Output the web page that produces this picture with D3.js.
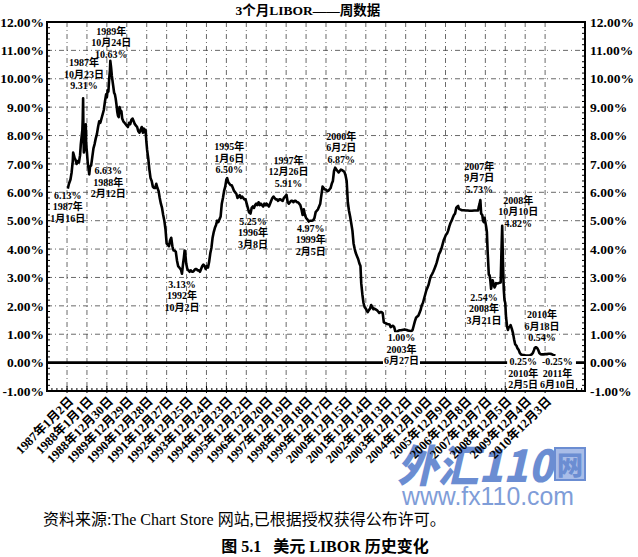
<!DOCTYPE html>
<html><head><meta charset="utf-8">
<script src="https://cdn.jsdelivr.net/npm/d3@7"></script>
<style>body{margin:0;background:#fff}svg{display:block}</style>
</head><body>
<svg id="c" width="638" height="557"></svg>
<script>
// ---------------- DATA ----------------
const dates = ["1987-01-16","1987-02-06","1987-03-06","1987-03-27","1987-04-17","1987-04-24","1987-05-08","1987-05-22","1987-06-05","1987-06-26","1987-07-17","1987-08-07","1987-08-28","1987-09-11","1987-09-25","1987-10-09","1987-10-16","1987-10-23","1987-10-30","1987-11-06","1987-11-20","1987-12-04","1987-12-11","1987-12-18","1988-01-01","1988-01-15","1988-01-29","1988-02-12","1988-02-26","1988-03-18","1988-04-08","1988-04-29","1988-05-20","1988-06-10","1988-07-01","1988-07-22","1988-08-12","1988-09-02","1988-09-23","1988-10-14","1988-11-04","1988-11-25","1988-12-16","1988-12-30","1989-01-13","1989-01-27","1989-02-10","1989-02-24","1989-03-03","1989-03-17","1989-03-31","1989-04-14","1989-04-28","1989-05-12","1989-05-26","1989-06-09","1989-06-23","1989-07-07","1989-07-21","1989-08-04","1989-08-18","1989-09-01","1989-09-22","1989-10-06","1989-10-27","1989-11-17","1989-12-08","1989-12-29","1990-01-19","1990-02-09","1990-03-02","1990-03-23","1990-04-13","1990-05-04","1990-05-25","1990-06-15","1990-07-06","1990-07-27","1990-08-17","1990-09-07","1990-09-28","1990-10-19","1990-11-02","1990-11-16","1990-11-30","1990-12-07","1990-12-21","1991-01-04","1991-01-25","1991-02-15","1991-03-08","1991-03-29","1991-04-19","1991-05-10","1991-05-31","1991-06-21","1991-07-12","1991-08-02","1991-08-23","1991-09-13","1991-10-04","1991-10-25","1991-11-15","1991-12-06","1991-12-27","1992-01-17","1992-02-07","1992-02-28","1992-03-20","1992-04-10","1992-05-01","1992-05-22","1992-06-12","1992-07-03","1992-07-24","1992-08-14","1992-09-04","1992-09-18","1992-10-02","1992-10-23","1992-11-06","1992-11-20","1992-12-04","1992-12-18","1993-01-08","1993-01-29","1993-02-19","1993-03-12","1993-04-02","1993-04-23","1993-05-14","1993-06-04","1993-06-25","1993-07-16","1993-08-06","1993-08-27","1993-09-17","1993-10-08","1993-10-29","1993-11-19","1993-12-10","1993-12-31","1994-01-21","1994-02-11","1994-03-04","1994-03-25","1994-04-15","1994-05-06","1994-05-27","1994-06-17","1994-07-08","1994-07-29","1994-08-19","1994-09-09","1994-09-30","1994-10-21","1994-11-11","1994-12-02","1994-12-23","1995-01-06","1995-01-27","1995-02-17","1995-03-10","1995-03-31","1995-04-21","1995-05-12","1995-06-02","1995-06-23","1995-07-14","1995-08-04","1995-08-25","1995-09-15","1995-10-06","1995-10-27","1995-11-17","1995-12-08","1995-12-29","1996-01-19","1996-02-09","1996-03-08","1996-03-29","1996-04-19","1996-05-10","1996-05-31","1996-06-21","1996-07-12","1996-08-02","1996-08-23","1996-09-13","1996-10-04","1996-10-25","1996-11-15","1996-12-06","1996-12-27","1997-01-17","1997-02-07","1997-02-28","1997-03-21","1997-04-11","1997-05-02","1997-05-23","1997-06-13","1997-07-04","1997-07-25","1997-08-15","1997-09-05","1997-09-26","1997-10-17","1997-11-07","1997-11-28","1997-12-26","1998-01-16","1998-02-06","1998-02-27","1998-03-20","1998-04-10","1998-05-01","1998-05-22","1998-06-12","1998-07-03","1998-07-24","1998-08-14","1998-09-04","1998-09-25","1998-10-16","1998-11-06","1998-11-27","1998-12-18","1999-01-08","1999-02-05","1999-02-26","1999-03-19","1999-04-09","1999-04-30","1999-05-21","1999-06-11","1999-07-02","1999-07-23","1999-08-13","1999-09-03","1999-09-24","1999-10-15","1999-11-05","1999-11-26","1999-12-17","2000-01-07","2000-01-28","2000-02-18","2000-03-10","2000-03-31","2000-04-21","2000-05-12","2000-06-02","2000-06-23","2000-07-14","2000-08-04","2000-08-25","2000-09-15","2000-10-06","2000-10-27","2000-11-17","2000-12-08","2000-12-29","2001-01-19","2001-02-09","2001-03-02","2001-03-23","2001-04-13","2001-05-04","2001-05-25","2001-06-15","2001-07-06","2001-07-27","2001-08-17","2001-09-07","2001-09-21","2001-10-12","2001-11-02","2001-11-23","2001-12-14","2001-12-28","2002-01-18","2002-02-08","2002-03-01","2002-03-22","2002-04-12","2002-05-03","2002-05-24","2002-06-14","2002-07-05","2002-07-26","2002-08-16","2002-09-06","2002-09-27","2002-10-18","2002-11-08","2002-11-29","2002-12-20","2003-01-10","2003-01-31","2003-02-21","2003-03-14","2003-04-04","2003-04-25","2003-05-16","2003-06-06","2003-06-27","2003-07-18","2003-08-08","2003-08-29","2003-09-19","2003-10-10","2003-10-31","2003-11-21","2003-12-12","2004-01-02","2004-01-23","2004-02-13","2004-03-05","2004-03-26","2004-04-16","2004-05-07","2004-05-28","2004-06-18","2004-07-09","2004-07-30","2004-08-20","2004-09-10","2004-10-01","2004-10-22","2004-11-12","2004-12-03","2004-12-24","2005-01-14","2005-02-04","2005-02-25","2005-03-18","2005-04-08","2005-04-29","2005-05-20","2005-06-10","2005-07-01","2005-07-22","2005-08-12","2005-09-02","2005-09-23","2005-10-14","2005-11-04","2005-11-25","2005-12-16","2006-01-06","2006-01-27","2006-02-17","2006-03-10","2006-03-31","2006-04-21","2006-05-12","2006-06-02","2006-06-23","2006-07-14","2006-07-28","2006-08-11","2006-09-01","2006-10-06","2006-11-10","2006-12-15","2007-01-19","2007-02-23","2007-04-06","2007-05-18","2007-06-29","2007-07-27","2007-08-10","2007-08-24","2007-09-07","2007-09-21","2007-10-12","2007-10-26","2007-11-09","2007-11-23","2007-12-07","2007-12-21","2008-01-04","2008-01-18","2008-01-25","2008-02-08","2008-02-22","2008-03-07","2008-03-21","2008-04-04","2008-04-18","2008-05-02","2008-05-23","2008-06-06","2008-06-20","2008-07-11","2008-08-01","2008-08-22","2008-09-12","2008-09-26","2008-10-10","2008-10-24","2008-11-07","2008-11-21","2008-12-05","2008-12-19","2009-01-09","2009-01-23","2009-02-06","2009-02-27","2009-03-13","2009-04-03","2009-04-24","2009-05-15","2009-06-05","2009-06-26","2009-07-17","2009-08-07","2009-08-28","2009-09-18","2009-10-09","2009-11-06","2009-12-04","2010-01-08","2010-02-05","2010-03-05","2010-04-02","2010-04-23","2010-05-14","2010-05-28","2010-06-18","2010-07-09","2010-07-30","2010-08-20","2010-09-10","2010-10-08","2010-11-05","2010-12-03","2011-01-07","2011-02-04","2011-03-04","2011-04-01","2011-04-29","2011-05-20","2011-06-10"];
const libor = [6.13,6.30,6.45,6.70,7.10,7.40,7.30,7.20,7.15,7.00,7.10,7.05,7.30,7.70,7.95,8.20,8.60,9.31,7.90,7.40,7.60,8.10,8.40,7.70,7.40,7.05,6.85,6.63,6.90,6.95,7.25,7.55,7.70,7.90,8.05,8.30,8.50,8.45,8.60,8.75,8.90,9.20,9.45,9.35,9.60,9.55,10.00,10.30,10.63,10.40,10.10,9.90,9.70,9.50,9.45,9.30,9.10,8.85,8.70,8.65,9.00,8.90,8.85,8.60,8.50,8.45,8.40,8.35,8.30,8.45,8.40,8.55,8.60,8.50,8.40,8.35,8.30,8.15,8.10,8.20,8.30,8.10,8.25,8.15,8.10,8.20,7.80,7.50,7.20,6.80,6.50,6.40,6.20,6.15,6.15,6.30,6.15,6.05,5.80,5.60,5.45,5.20,5.00,4.70,4.20,4.15,4.10,4.30,4.40,4.10,3.95,3.95,3.90,3.60,3.40,3.35,3.30,3.25,3.13,3.50,3.70,3.95,3.80,3.50,3.30,3.25,3.20,3.25,3.20,3.20,3.25,3.30,3.30,3.25,3.25,3.20,3.30,3.40,3.45,3.40,3.30,3.40,3.35,3.55,3.85,4.05,4.40,4.60,4.75,4.85,5.00,4.95,5.05,5.15,5.60,5.80,6.05,6.20,6.45,6.50,6.35,6.30,6.25,6.25,6.15,6.05,6.00,5.95,5.80,5.85,5.90,5.80,5.85,5.80,5.75,5.75,5.60,5.45,5.30,5.25,5.45,5.50,5.45,5.55,5.60,5.55,5.65,5.55,5.60,5.55,5.50,5.60,5.55,5.60,5.55,5.50,5.60,5.70,5.80,5.85,5.80,5.75,5.75,5.70,5.75,5.75,5.72,5.70,5.80,5.85,5.91,5.65,5.60,5.65,5.70,5.70,5.65,5.70,5.70,5.65,5.65,5.60,5.55,5.40,5.20,5.40,5.20,5.10,5.05,4.97,5.00,5.00,5.00,5.02,5.10,5.30,5.35,5.40,5.50,5.60,5.90,6.20,6.15,6.10,6.10,6.05,6.05,6.10,6.15,6.30,6.40,6.75,6.87,6.80,6.75,6.70,6.75,6.80,6.78,6.75,6.72,6.60,6.40,5.65,5.35,5.15,4.90,4.65,4.20,4.00,3.85,3.75,3.65,3.50,3.40,2.80,2.40,2.10,1.95,1.90,1.85,1.78,1.85,1.90,2.03,1.95,1.88,1.90,1.87,1.85,1.80,1.75,1.78,1.78,1.75,1.42,1.40,1.38,1.36,1.35,1.34,1.25,1.28,1.30,1.25,1.10,1.02,1.10,1.13,1.14,1.14,1.15,1.16,1.17,1.16,1.15,1.13,1.12,1.11,1.11,1.15,1.30,1.45,1.58,1.62,1.65,1.75,1.85,2.02,2.10,2.25,2.40,2.55,2.65,2.75,2.92,3.05,3.12,3.20,3.30,3.40,3.52,3.67,3.82,3.90,4.00,4.15,4.30,4.40,4.50,4.55,4.65,4.80,4.92,5.00,5.10,5.20,5.25,5.45,5.50,5.52,5.42,5.40,5.37,5.37,5.36,5.36,5.35,5.35,5.36,5.36,5.36,5.50,5.60,5.73,5.25,5.20,5.00,4.95,5.10,4.95,4.80,4.60,3.90,3.65,3.10,3.08,2.90,2.60,2.75,2.90,2.80,2.65,2.70,2.80,2.79,2.80,2.81,2.82,3.90,4.82,3.50,2.60,2.20,2.10,1.60,1.25,1.15,1.24,1.26,1.32,1.20,1.05,0.82,0.64,0.60,0.50,0.45,0.34,0.29,0.28,0.27,0.26,0.25,0.25,0.26,0.29,0.34,0.44,0.52,0.54,0.52,0.45,0.34,0.30,0.29,0.29,0.30,0.30,0.31,0.31,0.30,0.27,0.26,0.25];

const tickDates = ["1987-01-02","1988-01-01","1988-12-30","1989-12-29","1990-12-28","1991-12-27","1992-12-25","1993-12-24","1994-12-23","1995-12-22","1996-12-20","1997-12-19","1998-12-18","1999-12-17","2000-12-15","2001-12-14","2002-12-13","2003-12-12","2004-12-10","2005-12-09","2006-12-08","2007-12-07","2008-12-05","2009-12-04","2010-12-03"];
const tickLabels = ["1987年1月2日","1988年1月1日","1988年12月30日","1989年12月29日","1990年12月28日","1991年12月27日","1992年12月25日","1993年12月24日","1994年12月23日","1995年12月22日","1996年12月20日","1997年12月19日","1998年12月18日","1999年12月17日","2000年12月15日","2001年12月14日","2002年12月13日","2003年12月12日","2004年12月10日","2005年12月9日","2006年12月8日","2007年12月7日","2008年12月5日","2009年12月4日","2010年12月3日"];
const yTickValues = [-1,0,1,2,3,4,5,6,7,8,9,10,11,12];
const yTickLabels = ["-1.00%","0.00%","1.00%","2.00%","3.00%","4.00%","5.00%","6.00%","7.00%","8.00%","9.00%","10.00%","11.00%","12.00%"];

const annDates  = ["1989-03-03","1987-10-23","1988-02-12","1987-01-16","1995-01-06","1997-12-26","1996-03-08","1999-02-05","1992-10-02","2000-06-02","2007-09-07","2008-10-10","2008-03-21","2003-06-27","2010-06-18","2010-02-05","2011-06-10"];
const annValues = [10.63,9.31,6.63,6.13,6.50,5.91,5.25,4.97,3.13,6.87,5.73,4.82,2.54,1.00,0.54,0.25,0.25];
const annTexts  = [["1989年","10月24日","10.63%"],["1987年","10月23日","9.31%"],["6.63%","1988年","2月12日"],["6.13%","1987年","1月16日"],["1995年","1月6日","6.50%"],["1997年","12月26日","5.91%"],["5.25%","1996年","3月8日"],["4.97%","1999年","2月5日"],["3.13%","1992年","10月2日"],["2000年","6月2日","6.87%"],["2007年","9月7日","5.73%"],["2008年","10月10日","4.82%"],["2.54%","2008年","3月21日"],["1.00%","2003年","6月27日"],["2010年","6月18日","0.54%"],["0.25%","2010年","2月5日"],["-0.25%","2011年","6月10日"]];

const titleText = "3个月LIBOR——周数据";
const sourceText = "资料来源:The Chart Store 网站,已根据授权获得公布许可。";
const captionText = "图 5.1   美元 LIBOR 历史变化";

// ---------------- LAYOUT ----------------
const annOffsets = [[1,-26],[1,-32],[19,0],[0,10],[2,-28],[2,-31],[2.5,11],[2,10],[0,14],[6,-28],[-1,-30],[16,-22],[-7,10],[5,7],[6,-29],[-5.5,9.5],[2,9.5]];
const annBg = [false,false,false,false,false,false,false,false,false,false,false,false,false,true,false,true,true];
const SERIF = '"Liberation Serif","Noto Sans CJK SC",serif';
const L = 47, R = 585, T = 22, B = 391;
const parse = d3.timeParse("%Y-%m-%d");

const svg = d3.select("#c");
const x = d3.scaleTime().domain([new Date(1986,0,1), new Date(2012,11,1)]).range([L, R]);
const y = d3.scaleLinear().domain([-1, 12]).range([B, T]);

// watermark (under the chart texts)
const wm = svg.append("g");
wm.append("text").attr("x", 397).attr("y", 482).attr("font-family", '"Noto Sans CJK SC",sans-serif')
  .attr("font-size", 44).attr("font-weight", 900).attr("font-style", "italic").attr("fill", "#6b8dd2")
  .attr("textLength", 156).attr("lengthAdjust", "spacingAndGlyphs").text("外汇110");
wm.append("rect").attr("x", 555).attr("y", 448).attr("width", 30).attr("height", 32).attr("fill", "#a9bde8").attr("stroke", "#6b8dd2").attr("stroke-width", 2);
wm.append("text").attr("x", 570).attr("y", 475).attr("text-anchor", "middle").attr("font-family", '"Noto Sans CJK SC",sans-serif')
  .attr("font-size", 26).attr("font-weight", 900).attr("fill", "#6b8dd2").text("网");
wm.append("text").attr("x", 402).attr("y", 505).attr("font-family", '"Liberation Sans",Arial,sans-serif')
  .attr("font-size", 26).attr("fill", "#7f9dd8").attr("textLength", 172).attr("lengthAdjust", "spacingAndGlyphs").text("www.fx110.com");

// grid
const grid = svg.append("g").attr("stroke", "#444").attr("stroke-width", 0.8).attr("stroke-dasharray", "5,3,1,3");
grid.selectAll("line.h").data(yTickValues.filter(v => v !== 0 && v !== -1 && v !== 12)).join("line")
  .attr("x1", L).attr("x2", R).attr("y1", d => y(d)).attr("y2", d => y(d));
grid.selectAll("line.v").data(tickDates).join("line").attr("class", "v")
  .attr("x1", d => x(parse(d))).attr("x2", d => x(parse(d))).attr("y1", T).attr("y2", B);

// minor/major ticks on y (inside, both sides)
const minorY = d3.range(-1, 12.001, 0.2);
const tk = svg.append("g").attr("stroke", "#000").attr("stroke-width", 1);
tk.selectAll("line.ml").data(minorY).join("line").attr("x1", L).attr("x2", L + 3).attr("y1", d => y(d)).attr("y2", d => y(d));
tk.selectAll("line.mr").data(minorY).join("line").attr("x1", R - 3).attr("x2", R).attr("y1", d => y(d)).attr("y2", d => y(d));
tk.selectAll("line.xl").data(tickDates).join("line").attr("x1", d => x(parse(d))).attr("x2", d => x(parse(d))).attr("y1", B - 5).attr("y2", B + 2);
const minorX = d3.timeMonth.every(3).range(new Date(1986,0,1), new Date(2012,11,1));
tk.selectAll("line.xm").data(minorX).join("line").attr("x1", d => x(d)).attr("x2", d => x(d)).attr("y1", B - 3).attr("y2", B);

// zero line
svg.append("line").attr("x1", L).attr("x2", R).attr("y1", y(0)).attr("y2", y(0)).attr("stroke", "#000").attr("stroke-width", 2.6);

// data line
const series = dates.map((d, i) => ({ d: parse(d), v: libor[i] }));
svg.append("path").datum(series).attr("fill", "none").attr("stroke", "#000").attr("stroke-width", 2.6)
  .attr("stroke-linejoin", "round").attr("d", d3.line().x(p => x(p.d)).y(p => y(p.v)));

// frame
svg.append("rect").attr("x", L).attr("y", T).attr("width", R - L).attr("height", B - T)
  .attr("fill", "none").attr("stroke", "#000").attr("stroke-width", 2);

// y labels
const yl = svg.append("g").attr("font-family", SERIF).attr("font-size", 13.5).attr("font-weight", "bold").attr("fill", "#000");
yl.selectAll("text.l").data(yTickValues).join("text").attr("x", 44).attr("y", d => y(d)).attr("dy", "0.35em")
  .attr("text-anchor", "end").text((d, i) => yTickLabels[i]);
yl.selectAll("text.r").data(yTickValues).join("text").attr("class", "r").attr("x", 590).attr("y", d => y(d)).attr("dy", "0.35em")
  .attr("text-anchor", "start").text((d, i) => yTickLabels[i]);

// x labels
svg.append("g").attr("font-family", SERIF).attr("font-size", 12.5).attr("font-weight", "bold")
  .selectAll("text").data(tickDates).join("text")
  .attr("transform", d => `translate(${x(parse(d)) + 7},${B + 11}) rotate(-45)`)
  .attr("text-anchor", "end").text((d, i) => tickLabels[i]);

// annotations
const ag = svg.append("g").attr("font-family", SERIF).attr("font-size", 10).attr("font-weight", "bold");
annDates.forEach((d, i) => {
  const ax = x(parse(d)) + annOffsets[i][0];
  const ay = y(annValues[i]) + annOffsets[i][1];
  const g = ag.append("g");
  const t = g.append("text").attr("text-anchor", "middle");
  annTexts[i].forEach((s, k) => t.append("tspan").attr("x", ax).attr("y", ay + k * 11.5).text(s));
  if (annBg[i]) {
    const bb = t.node().getBBox();
    g.insert("rect", "text").attr("x", bb.x - 1).attr("y", bb.y).attr("width", bb.width + 2).attr("height", bb.height).attr("fill", "#fff");
  }
});

// title & texts
svg.append("text").attr("x", 308).attr("y", 15).attr("text-anchor", "middle").attr("font-family", SERIF)
  .attr("font-size", 13.5).attr("font-weight", "bold").text(titleText);
svg.append("text").attr("x", 43).attr("y", 525).attr("font-family", SERIF).attr("font-size", 16).text(sourceText);
svg.append("text").attr("x", 325).attr("y", 552).attr("text-anchor", "middle").attr("font-family", SERIF)
  .attr("font-size", 16).attr("font-weight", "bold").attr("xml:space", "preserve").style("white-space", "pre").text(captionText);
</script>
</body></html>
